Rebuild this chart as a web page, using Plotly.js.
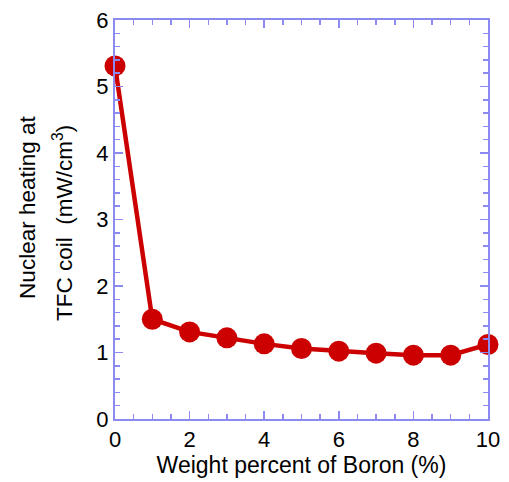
<!DOCTYPE html>
<html><head><meta charset="utf-8">
<script src="https://cdn.plot.ly/plotly-3.0.1.min.js"></script>
<style>html,body{margin:0;padding:0;background:#fff}#c{width:509px;height:482px}</style>
</head><body><div id="c"></div>
<script>
const boronPct = [0, 1, 2, 3, 4, 5, 6, 7, 8, 9, 10];
const heating = [5.31, 1.50, 1.31, 1.22, 1.13, 1.06, 1.02, 0.99, 0.96, 0.96, 1.12];
const xTitle = 'Weight percent of Boron (%)';
const yTitle1 = 'Nuclear heating at';
const yTitle2 = 'TFC coil  (mW/cm<sup>3</sup>)';

const axisColor = '#8a8af0';
const font = 'Liberation Sans, Arial, sans-serif';

const trace = {
  x: boronPct, y: heating, type: 'scatter', mode: 'lines+markers',
  line: {color: '#cc0000', width: 4.5},
  marker: {color: '#cc0000', size: 21},
  cliponaxis: false
};
const layout = {
  width: 509, height: 482,
  margin: {l: 115, r: 21, t: 20, b: 63},
  paper_bgcolor: '#fff', plot_bgcolor: '#fff',
  showlegend: false,
  font: {family: font, color: '#000'},
  xaxis: {
    range: [0, 10], tickvals: [0, 2, 4, 6, 8, 10], ticks: 'inside', ticklen: 8, tickwidth: 1.5,
    tickcolor: axisColor, showline: true, linecolor: axisColor, linewidth: 2, mirror: 'ticks',
    showgrid: false, zeroline: false, tickfont: {size: 22, family: font},
    minor: {dtick: 0.5, ticks: 'inside', ticklen: 5, tickcolor: axisColor, tickwidth: 1.5},
    title: {text: xTitle, font: {size: 23, family: font}, standoff: 4}
  },
  yaxis: {
    range: [0, 6], tickvals: [0, 1, 2, 3, 4, 5, 6], ticks: 'inside', ticklen: 8, tickwidth: 1.5,
    tickcolor: axisColor, showline: true, linecolor: axisColor, linewidth: 2, mirror: 'ticks',
    showgrid: false, zeroline: false, tickfont: {size: 22, family: font},
    minor: {dtick: 0.2, ticks: 'inside', ticklen: 5, tickcolor: axisColor, tickwidth: 1.5}
  },
  annotations: [
    {text: yTitle1, textangle: -90, xref: 'paper', yref: 'paper', x: -0.235, y: 0.53,
     xanchor: 'center', yanchor: 'middle', showarrow: false, font: {size: 22.5, family: font}},
    {text: yTitle2, textangle: -90, xref: 'paper', yref: 'paper', x: -0.138, y: 0.49,
     xanchor: 'center', yanchor: 'middle', showarrow: false, font: {size: 22.5, family: font}}
  ]
};
Plotly.newPlot('c', [trace], layout, {displayModeBar: false, staticPlot: true});
</script></body></html>
